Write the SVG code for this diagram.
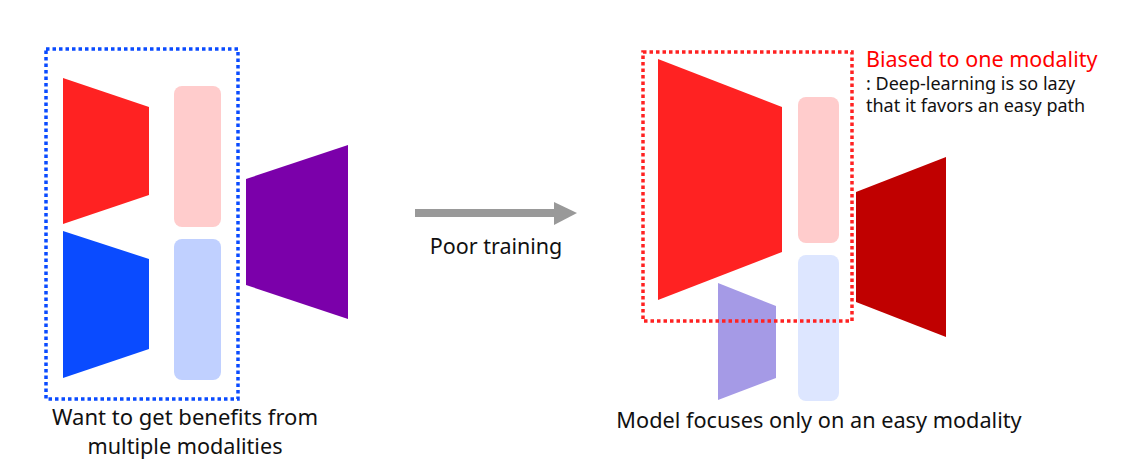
<svg xmlns="http://www.w3.org/2000/svg" width="1123" height="467" viewBox="0 0 1123 467">
<style>
.t{font-family:"Noto Sans","Liberation Sans",sans-serif;fill:#111}
.box{fill:none;stroke-width:3.5;stroke-dasharray:3.5 3}
</style>
<rect width="1123" height="467" fill="#fff"/>
<g id="left-red-encoder"><polygon points="63,78 149,107 149,195 63,224" fill="#ff2222"/></g>
<g id="left-blue-encoder"><polygon points="63,231 149,259 149,349 63,378" fill="#0a4bff"/></g>
<g id="left-pink-feature"><rect x="174" y="86" width="47" height="141" rx="8" fill="#ffcccc"/></g>
<g id="left-blue-feature"><rect x="174" y="239" width="47" height="141" rx="8" fill="#c0d0ff"/></g>
<g id="left-purple-head"><polygon points="246,179 348,145 348,319 246,285" fill="#7b00aa"/></g>
<g id="left-box"><rect class="box" x="46" y="49" width="192" height="350" stroke="#0a4bff"/></g>
<g id="left-caption">
<text class="t" x="185" y="425" font-size="21" text-anchor="middle" textLength="266" lengthAdjust="spacingAndGlyphs">Want to get benefits from</text>
<text class="t" x="185" y="454" font-size="21" text-anchor="middle" textLength="195" lengthAdjust="spacingAndGlyphs">multiple modalities</text>
</g>
<g id="connectors">
<rect x="415" y="209" width="140" height="8" fill="#999"/>
<polygon points="554,202 577,213 554,225" fill="#999"/>
</g>
<g id="arrow-label"><text class="t" x="496" y="254" font-size="21.5" text-anchor="middle">Poor training</text></g>
<g id="right-red-encoder"><polygon points="658,59 782,107 782,252 658,300" fill="#ff2222"/></g>
<g id="right-purple-encoder"><polygon points="718,283 776,306 776,378 718,400" fill="#a59ae6"/></g>
<g id="right-pink-feature"><rect x="798" y="97" width="41" height="146" rx="8" fill="#ffcccc"/></g>
<g id="right-blue-feature"><rect x="798" y="255" width="41" height="146" rx="8" fill="#dde6ff"/></g>
<g id="right-darkred-head"><polygon points="856,192 946,157 946,337 856,302" fill="#c00000"/></g>
<g id="right-box"><rect class="box" x="643" y="52" width="209" height="269" stroke="#ff2222"/></g>
<g id="bias-note">
<text class="t" x="866" y="67" font-size="21.5" style="fill:#ff0000">Biased to one modality</text>
<text class="t" font-size="18"><tspan x="866" y="90">: Deep-learning is so lazy</tspan><tspan x="866" y="112">that it favors an easy path</tspan></text>
</g>
<g id="right-caption"><text class="t" x="819" y="428" font-size="21.7" text-anchor="middle">Model focuses only on an easy modality</text></g>
</svg>
